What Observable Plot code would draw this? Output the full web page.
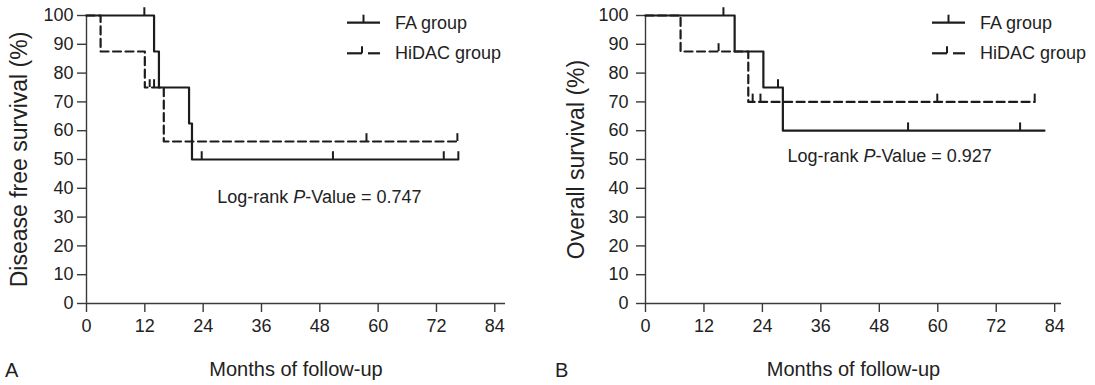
<!DOCTYPE html>
<html>
<head>
<meta charset="utf-8">
<script src="https://cdn.jsdelivr.net/npm/d3@7"></script>
<script src="https://cdn.jsdelivr.net/npm/@observablehq/plot@0.6"></script>
<style>
  html, body { margin: 0; padding: 0; background: #fff; }
  #row { display: flex; flex-direction: row; width: 1095px; height: 385px; }
  svg { font-family: "Liberation Sans", Arial, Helvetica, sans-serif; }
</style>
</head>
<body>
<div id="row"></div>
<script>
// ---------- data ----------
const xTicks = [0, 12, 24, 36, 48, 60, 72, 84];
const yTicks = [0, 10, 20, 30, 40, 50, 60, 70, 80, 90, 100];
const groups = ["FA group", "HiDAC group"];
const xTitle = "Months of follow-up";

// Panel A: disease free survival
const dfsFATime   = [0, 13.9, 14.9, 21.1, 21.7, 76.5];
const dfsFASurv   = [100, 87.5, 75, 62.5, 50, 50];
const dfsFACensT  = [11.9, 23.7, 50.7, 73.5, 76.5];
const dfsFACensS  = [100, 50, 50, 50, 50];
const dfsHiTime   = [0, 2.9, 12.0, 15.9, 76.3];
const dfsHiSurv   = [100, 87.5, 75, 56.25, 56.25];
const dfsHiCensT  = [13.0, 13.9, 57.6, 76.3];
const dfsHiCensS  = [75, 75, 56.25, 56.25];
const dfsPText = "Log-rank P-Value = 0.747";

// Panel B: overall survival
const osFATime    = [0, 18.3, 24.2, 28.2, 81.9];
const osFASurv    = [100, 87.5, 75, 60, 60];
const osFACensT   = [16.0, 27.2, 53.9, 76.9];
const osFACensS   = [100, 75, 60, 60];
const osHiTime    = [0, 7.2, 21.1, 79.9];
const osHiSurv    = [100, 87.5, 70, 70];
const osHiCensT   = [15.0, 22.0, 23.6, 59.9, 79.9];
const osHiCensS   = [87.5, 70, 70, 70, 70];
const osPText = "Log-rank P-Value = 0.927";

// ---------- helpers ----------
const curve = (t, s, g) => t.map((x, i) => ({t: x, s: s[i], g}));
const FONT = "Liberation Sans, Arial, Helvetica, sans-serif";
const INK = "#1c1c1c";
const AXIS = "#3a3a3a";
const tickUnits = 2.7; // censor tick length in survival units

function panel(o) {
  const lines = [
    ...curve(o.faT, o.faS, groups[0]),
    ...curve(o.hiT, o.hiS, groups[1])
  ];
  const cens = [
    ...curve(o.faCT, o.faCS, groups[0]),
    ...curve(o.hiCT, o.hiCS, groups[1])
  ];
  const svg = Plot.plot({
    width: o.width,
    height: 385,
    marginTop: 15,
    marginBottom: 82,
    marginLeft: o.marginLeft,
    marginRight: o.marginRight,
    style: {fontFamily: FONT, fontSize: "18px", color: "#222", background: "#fff", overflow: "visible"},
    x: {domain: [0, o.xMax], ticks: xTicks, tickSize: 9, tickPadding: 7,
        label: xTitle, labelAnchor: "center", labelOffset: 72},
    y: {domain: [0, 100], ticks: yTicks, tickSize: 9, tickPadding: o.yPad,
        label: o.ylabel, labelAnchor: "center", labelOffset: o.yLabelOffset},
    marks: [
      Plot.ruleY([0], {stroke: AXIS, strokeWidth: 1.4}),
      Plot.ruleX([0], {stroke: AXIS, strokeWidth: 1.4}),
      Plot.line(lines.filter(d => d.g === groups[0]), {x: "t", y: "s", curve: "step-after",
        stroke: INK, strokeWidth: 2.2}),
      Plot.line(lines.filter(d => d.g === groups[1]), {x: "t", y: "s", curve: "step-after",
        stroke: INK, strokeWidth: 2.2, strokeDasharray: "8,4.5"}),
      Plot.ruleX(cens, {x: "t", y1: "s", y2: d => d.s + tickUnits, stroke: INK, strokeWidth: 2}),
      Plot.text([o.pText], {x: o.pX, y: o.pY, text: d => d, fontSize: 18, fill: "#222", textAnchor: "middle"})
    ]
  });
  const S = d3.select(svg);
  S.selectAll("text").each(function() {
    const t = this.textContent;
    const sel = d3.select(this);
    if (t.startsWith("Log-rank")) {
      // italic P
      const [a, b] = t.split("P-Value");
      sel.text(null);
      sel.append("tspan").text(a);
      sel.append("tspan").attr("font-style", "italic").text("P");
      sel.append("tspan").text("-Value" + b);
    } else if (t.includes(xTitle)) {
      sel.text(xTitle).style("font-size", "20px");
    } else if (t.includes(o.ylabel)) {
      sel.text(o.ylabel).style("font-size", "23px");
    }
  });
  S.selectAll('g[aria-label="x-axis tick"], g[aria-label="y-axis tick"]')
    .attr("stroke", AXIS).attr("stroke-width", 1.4);
  // legend
  const lg = S.append("g").attr("font-family", FONT).attr("font-size", 18)
    .attr("fill", "#222").attr("text-anchor", "start");
  const lx = o.legendX, w = 33;
  [0, 1].forEach(i => {
    const y = 22.7 + i * 30.6;
    if (i === 0) {
      lg.append("line").attr("x1", lx).attr("x2", lx + w).attr("y1", y).attr("y2", y)
        .attr("stroke", INK).attr("stroke-width", 2.2);
      lg.append("line").attr("x1", lx + w / 2).attr("x2", lx + w / 2).attr("y1", y).attr("y2", y - 8)
        .attr("stroke", INK).attr("stroke-width", 2);
    } else {
      lg.append("line").attr("x1", lx).attr("x2", lx + 15).attr("y1", y).attr("y2", y)
        .attr("stroke", INK).attr("stroke-width", 2.2);
      lg.append("line").attr("x1", lx + 15).attr("x2", lx + 15).attr("y1", y).attr("y2", y - 7)
        .attr("stroke", INK).attr("stroke-width", 2);
      lg.append("line").attr("x1", lx + 21).attr("x2", lx + w).attr("y1", y).attr("y2", y)
        .attr("stroke", INK).attr("stroke-width", 2.2);
    }
    lg.append("text").attr("x", lx + 48).attr("y", y + 6).text(groups[i]);
  });
  // panel letter
  S.append("text").attr("x", o.letterX).attr("y", 377).attr("text-anchor", "start")
    .attr("font-family", FONT).attr("font-size", 20).attr("fill", "#222").text(o.letter);
  return svg;
}

const row = document.getElementById("row");
row.appendChild(panel({
  width: 547, marginLeft: 86, marginRight: 42, xMax: 86.2, yPad: 4,
  ylabel: "Disease free survival (%)", yLabelOffset: 76,
  faT: dfsFATime, faS: dfsFASurv, faCT: dfsFACensT, faCS: dfsFACensS,
  hiT: dfsHiTime, hiS: dfsHiSurv, hiCT: dfsHiCensT, hiCS: dfsHiCensS,
  pText: dfsPText, pX: 47.9, pY: 36.8, legendX: 347, letter: "A", letterX: 5
}));
row.appendChild(panel({
  width: 548, marginLeft: 98, marginRight: 34, xMax: 85.4, yPad: 8,
  ylabel: "Overall survival (%)", yLabelOffset: 78,
  faT: osFATime, faS: osFASurv, faCT: osFACensT, faCS: osFACensS,
  hiT: osHiTime, hiS: osHiSurv, hiCT: osHiCensT, hiCS: osHiCensS,
  pText: osPText, pX: 50.1, pY: 51.2, legendX: 385, letter: "B", letterX: 8
}));
</script>
</body>
</html>
